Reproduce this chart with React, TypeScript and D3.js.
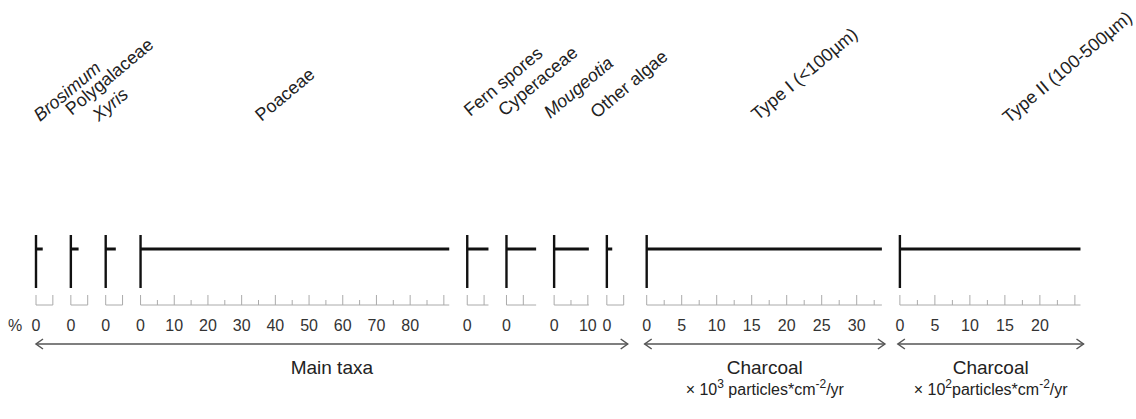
import React from "react";
import * as d3 from "d3";

// Pollen / algae percentages (one sample)
const taxa = ["Brosimum", "Polygalaceae", "Xyris", "Poaceae", "Fern spores", "Cyperaceae", "Mougeotia", "Other algae"];
const taxaValues = [2.0, 2.3, 3.0, 91.6, 6.3, 8.8, 10.3, 1.6];
const taxaItalic = [true, false, true, false, false, false, true, false];
const taxaTickLabels = [[0], [0], [0], [0, 10, 20, 30, 40, 50, 60, 70, 80], [0], [0], [0, 10], [0]];

// Charcoal accumulation rates
const charcoal = ["Type I (<100µm)", "Type II (100-500µm)"];
const charcoalValues = [33.6, 25.8];
const charcoalTickLabels = [[0, 5, 10, 15, 20, 25, 30], [0, 5, 10, 15, 20]];

const FONT = "'Liberation Sans', Arial, sans-serif";
const PCT_PX = 3.37; // px per percent
const CHAR_PX = 7.0; // px per charcoal unit
const GAP = 18;
const X0 = 36;

const Y_TOP = 235;
const Y_BAR = 249;
const Y_LINE_END = 288;
const Y_AXIS = 305;
const Y_TICKLBL = 331;
const Y_ARROW = 344;
const Y_GROUP = 374;
const Y_SUB = 395;
const Y_NAME = 122;
const ANGLE = -40;

// name label start offsets relative to each panel's zero
const nameDx = [4, 1, -7, 121, 3, -2, -4, -10, 111, 109];
const nameDy = [0, -6, 0, 0, -5, -5, -3, -3, -1, 2];

type Panel = {
  name: string;
  value: number;
  italic: boolean;
  labels: number[];
  scale: d3.ScaleLinear<number, number>;
  max: number;
};

function buildPanels(): Panel[] {
  const panels: Panel[] = [];
  let x = X0;
  taxa.forEach((name, i) => {
    const max = Math.max(5, taxaValues[i]);
    const scale = d3.scaleLinear().domain([0, max]).range([x, x + max * PCT_PX]);
    panels.push({ name, value: taxaValues[i], italic: taxaItalic[i], labels: taxaTickLabels[i], scale, max });
    x += max * PCT_PX + GAP;
  });
  x += 5;
  charcoal.forEach((name, i) => {
    const max = charcoalValues[i];
    const scale = d3.scaleLinear().domain([0, max]).range([x, x + max * CHAR_PX]);
    panels.push({ name, value: max, italic: false, labels: charcoalTickLabels[i], scale, max });
    x += max * CHAR_PX + GAP;
  });
  return panels;
}

function Arrow({ x1, x2 }: { x1: number; x2: number }) {
  const c = "#555";
  return (
    <g stroke={c} strokeWidth={1.5} fill="none">
      <line x1={x1} x2={x2} y1={Y_ARROW} y2={Y_ARROW} />
      <polyline points={`${x1 + 7},${Y_ARROW - 5} ${x1},${Y_ARROW} ${x1 + 7},${Y_ARROW + 5}`} />
      <polyline points={`${x2 - 7},${Y_ARROW - 5} ${x2},${Y_ARROW} ${x2 - 7},${Y_ARROW + 5}`} />
    </g>
  );
}

export default function App() {
  const panels = buildPanels();
  const main = panels.slice(0, taxa.length);
  const ch = panels.slice(taxa.length);
  const mainL = main[0].scale(0);
  const mainR = main[main.length - 1].scale.range()[1] + 4;

  return (
    <svg width={1136} height={419} style={{ display: "block", position: "absolute", left: 0, top: 0 }} fontFamily={FONT}>
      <rect width={1136} height={419} fill="#fff" />
      {panels.map((p, i) => {
        const x0 = p.scale(0);
        const x1 = p.scale.range()[1];
        const step = 2.5 * (i >= taxa.length ? 1 : 2);
        const ticks = d3.range(0, p.max + 1e-6, step);
        const allTall = p.max <= 10 && i < taxa.length;
        return (
          <g key={p.name}>
            <text
              transform={`translate(${x0 + nameDx[i]},${Y_NAME + nameDy[i]}) rotate(${ANGLE})`}
              fontSize={18}
              fill="#222"
              fontStyle={p.italic ? "italic" : "normal"}
            >
              {p.name}
            </text>
            {/* axis */}
            <line x1={x0} x2={x1} y1={Y_AXIS} y2={Y_AXIS} stroke="#aaa" strokeWidth={1} />
            {ticks.map((t) => {
              const tall = allTall || Math.abs(t % (i >= taxa.length ? 5 : 10)) < 1e-6;
              return (
                <line key={t} x1={p.scale(t)} x2={p.scale(t)} y1={Y_AXIS} y2={Y_AXIS - (tall ? 10 : 5)} stroke="#aaa" strokeWidth={1} />
              );
            })}
            {p.labels.map((t) => (
              <text key={t} x={p.scale(t)} y={Y_TICKLBL} fontSize={16} fill="#333" textAnchor="middle">
                {t}
              </text>
            ))}
            {/* zero line and bar */}
            <line x1={x0} x2={x0} y1={Y_TOP} y2={Y_LINE_END} stroke="#111" strokeWidth={2.4} />
            <line x1={x0} x2={p.scale(p.value)} y1={Y_BAR} y2={Y_BAR} stroke="#111" strokeWidth={3} />
          </g>
        );
      })}
      <text x={8} y={Y_TICKLBL} fontSize={16} fill="#333">%</text>
      <Arrow x1={mainL} x2={mainR} />
      <text x={(mainL + mainR) / 2} y={Y_GROUP} fontSize={19} fill="#222" textAnchor="middle">Main taxa</text>
      {ch.map((p, i) => {
        const l = p.scale(0) - 2;
        const r = p.scale.range()[1] + 3;
        const cx = (l + r) / 2;
        return (
          <g key={"grp" + i}>
            <Arrow x1={l} x2={r} />
            <text x={cx} y={Y_GROUP} fontSize={19} fill="#222" textAnchor="middle">Charcoal</text>
            <text x={cx} y={Y_SUB} fontSize={16} fill="#222" textAnchor="middle">
              {"× 10"}
              <tspan fontSize={12} dy={-7}>{i === 0 ? "3" : "2"}</tspan>
              <tspan dy={7}>{i === 0 ? " particles*cm" : "particles*cm"}</tspan>
              <tspan fontSize={12} dy={-7}>{"-2"}</tspan>
              <tspan dy={7}>{"/yr"}</tspan>
            </text>
          </g>
        );
      })}
    </svg>
  );
}
